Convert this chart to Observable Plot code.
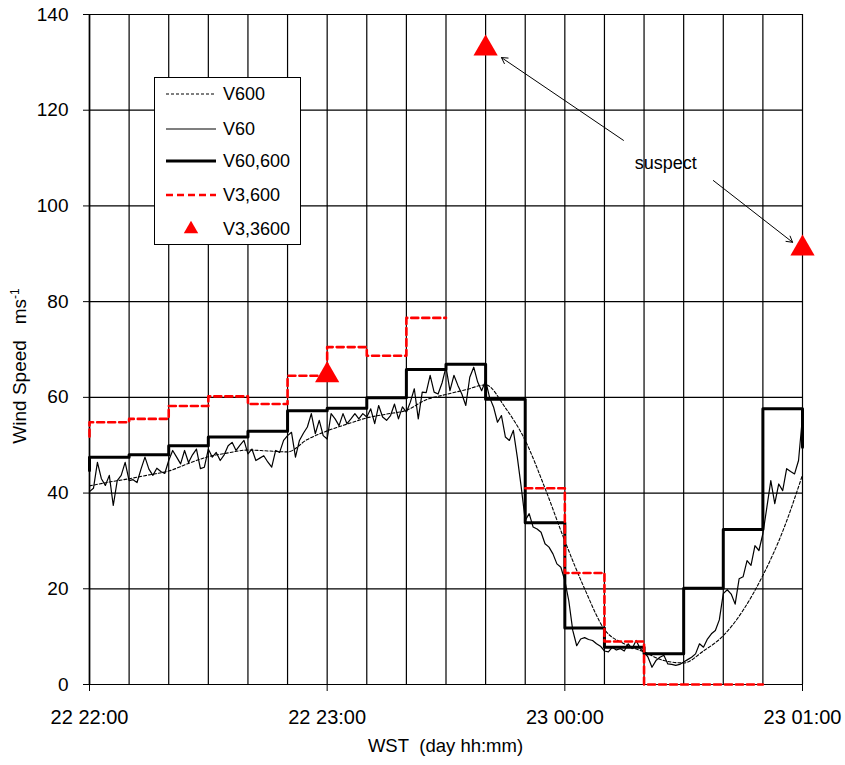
<!DOCTYPE html>
<html><head><meta charset="utf-8">
<script src="https://cdn.jsdelivr.net/npm/d3@7"></script>
<script src="https://cdn.jsdelivr.net/npm/@observablehq/plot@0.6"></script>
<style>
body{margin:0;background:#fff;}
#chart{position:relative;width:845px;height:765px;}
</style></head><body><div id="chart"></div>
<script>
// time axis: minutes after 22 22:00 WST
const intervalStarts = [0,10,20,30,40,50,60,70,80,90,100,110,120,130,140,150,160,170];
const intervalWidth = 10;
const v60_600 = [47.5,48.0,49.9,51.7,52.9,57.2,57.7,59.9,65.8,66.9,59.6,33.8,11.8,7.8,6.4,20.1,32.4,57.6];
const v60_600Before = 44.7;
const v60_600After = 49.6;
const v3_600 = [54.8,55.5,58.2,60.2,58.6,64.5,70.5,68.7,76.6,null,null,41.0,23.3,9.0,0,0,0,null];
const v3_600Before = 51.8;

const v600Minutes = [0,5,10,15,20,25,30,35,40,45,50,55,60,65,70,75,80,85,90,95,100,105,110,115,120,125,130,135,140,145,150,155,160,165,170,175,180];
const v600 = [41.5,42.3,43.0,43.8,44.6,46.2,47.6,48.4,49.0,48.8,48.6,51.2,53.0,54.4,55.7,56.5,57.3,59.5,60.6,61.6,62.6,57.8,51.0,41.0,30.0,20.0,11.5,8.5,6.8,5.0,4.5,7.0,10.2,15.5,22.8,32.0,43.8];

// 1-minute values, minute 0..180
const v60 = [
40.3,41.0,46.4,43.0,41.6,43.7,37.4,42.6,43.7,46.4,
42.6,42.8,42.2,45.0,47.5,45.0,43.7,45.2,44.5,44.1,
46.8,48.9,47.5,46.1,48.9,46.4,48.0,49.2,45.1,45.4,
49.2,47.5,48.5,46.8,48.0,49.9,50.6,48.9,50.0,51.0,
48.2,49.2,46.8,47.3,47.8,46.5,45.4,48.9,48.5,51.0,
52.0,52.7,47.5,51.0,52.5,53.8,56.6,52.4,55.2,52.0,
51.3,56.6,55.5,54.1,56.6,54.5,55.5,56.6,55.5,56.6,
55.9,57.6,54.5,58.3,55.9,55.2,56.2,58.6,55.5,58.0,
56.9,59.0,61.8,55.5,61.1,61.0,64.6,61.1,60.7,63.0,
66.3,61.4,64.6,62.5,60.7,58.3,64.2,66.3,63.2,61.4,
63.5,60.0,58.0,54.8,56.2,51.7,51.0,53.1,47.5,41.2,
34.3,35.7,32.9,32.5,31.8,29.4,28.7,27.3,25.2,24.5,
21.7,17.5,11.3,8.1,9.5,9.8,9.4,9.2,8.5,8.0,
7.0,6.8,7.8,7.2,7.5,7.0,8.5,7.5,9.2,7.5,
6.8,5.7,3.6,5.0,5.7,6.1,4.3,4.2,4.0,4.2,
4.7,5.2,5.7,6.4,8.5,7.8,9.5,10.6,11.3,13.5,
19.0,19.8,18.9,16.8,22.1,22.5,25.9,24.9,29.0,28.0,
31.5,37.0,42.6,37.8,41.9,40.5,45.1,44.5,44.0,46.8,
56.0];

const v3_3600Minutes = [60,100,180];
const v3_3600 = [64.6,132.9,91.1];

const gridMinutes = [0,10,20,30,40,50,60,70,80,90,100,110,120,130,140,150,160,170,180];
const xTickMinutes = [0,60,120,180];
const xTickLabels = ["22 22:00","22 23:00","23 00:00","23 01:00"];
const yTicks = [0,20,40,60,80,100,120,140];

const suspectLabel = [{x:145.5, y:109, text:"suspect"}];
const suspectArrows = [
  {x1:134.8, y1:113.7, x2:104.0, y2:131.0},
  {x1:157.5, y1:105.3, x2:177.5, y2:92.4}
];

const legendItems = ["V600","V60","V60,600","V3,600","V3,3600"];

function stepPoints(starts, values, width, before, after) {
  const pts = [];
  if (before != null) pts.push({x: starts[0], y: before});
  values.forEach((v, i) => {
    if (v == null) { pts.push({x: starts[i], y: NaN}); return; }
    pts.push({x: starts[i], y: v}, {x: starts[i] + width, y: v});
  });
  if (after != null) pts.push({x: starts[starts.length - 1] + width, y: after});
  return pts;
}

const stepBlack = stepPoints(intervalStarts, v60_600, intervalWidth, v60_600Before, v60_600After);
const stepRed = stepPoints(intervalStarts, v3_600, intervalWidth, v3_600Before, null);
const v60Data = v60.map((v, i) => ({x: i, y: v}));
const v600Data = v600Minutes.map((m, i) => ({x: m, y: v600[i]}));
const triData = v3_3600Minutes.map((m, i) => ({x: m, y: v3_3600[i]}));

const FONT = "'Liberation Sans', Arial, sans-serif";

const plot = Plot.plot({
  width: 845, height: 765,
  marginLeft: 89, marginRight: 43, marginTop: 14, marginBottom: 81,
  style: {fontFamily: FONT, fontSize: "19px", color: "#000", background: "#fff", overflow: "visible"},
  x: {domain: [0, 180]},
  y: {domain: [0, 140]},
  marks: [
    Plot.ruleX(gridMinutes, {stroke: "#000", strokeWidth: 1.2}),
    Plot.ruleY(yTicks, {stroke: "#000", strokeWidth: 1.2}),
    Plot.ruleX([0], {stroke: "#000", strokeWidth: 1.6}),
    Plot.axisY(yTicks, {anchor: "left", tickSize: 6, tickPadding: 15, label: null, fontSize: 19}),
    Plot.axisX(xTickMinutes, {anchor: "bottom", tickSize: 7, tickPadding: 18, label: null, fontSize: 20,
      tickFormat: d => xTickLabels[xTickMinutes.indexOf(d)]}),
    Plot.line(v600Data, {x: "x", y: "y", stroke: "#000", strokeWidth: 1.1, strokeDasharray: "3,2", curve: "monotone-x"}),
    Plot.line(v60Data, {x: "x", y: "y", stroke: "#000", strokeWidth: 1.2}),
    Plot.line(stepBlack, {x: "x", y: "y", stroke: "#000", strokeWidth: 3}),
    Plot.line(stepRed, {x: "x", y: "y", stroke: "#ff0000", strokeWidth: 2.6, strokeDasharray: "7,4"}),
    Plot.dot(triData, {x: "x", y: "y", symbol: "triangle", r: 9, fill: "#ff0000", stroke: "none"}),
    Plot.arrow(suspectArrows, {x1: "x1", y1: "y1", x2: "x2", y2: "y2", stroke: "#000", strokeWidth: 1, headLength: 10}),
    Plot.text(suspectLabel, {x: "x", y: "y", text: "text", fontSize: 18, fill: "#000"})
  ]
});

const svg = d3.select(plot);
// axis titles
svg.append("text")
  .attr("x", 445.5).attr("y", 752)
  .attr("text-anchor", "middle")
  .attr("font-family", FONT).attr("font-size", 18.5).attr("fill", "#000")
  .text("WST\u00a0 (day hh:mm)");
const yt = svg.append("text")
  .attr("transform", "translate(26,366) rotate(-90)")
  .attr("text-anchor", "middle")
  .attr("font-family", FONT).attr("font-size", 19).attr("fill", "#000");
yt.append("tspan").text("Wind Speed\u00a0\u00a0 ms");
yt.append("tspan").attr("dy", -7).attr("font-size", 12).text("-1");

// legend
const lg = svg.append("g").attr("font-family", FONT).attr("font-size", 18).attr("text-anchor", "start");
lg.append("rect").attr("x", 154.5).attr("y", 77.5).attr("width", 146).attr("height", 167)
  .attr("fill", "#fff").attr("stroke", "#000").attr("stroke-width", 1);
const rowY = [94, 129, 161, 195, 229];
const styles = [
  {stroke: "#000", w: 1.1, dash: "3,2"},
  {stroke: "#000", w: 1.2, dash: null},
  {stroke: "#000", w: 3, dash: null},
  {stroke: "#ff0000", w: 2.6, dash: "7,4"},
  null
];
legendItems.forEach((name, i) => {
  const s = styles[i];
  if (s) {
    const l = lg.append("line").attr("x1", 166).attr("x2", 216).attr("y1", rowY[i]).attr("y2", rowY[i])
      .attr("stroke", s.stroke).attr("stroke-width", s.w);
    if (s.dash) l.attr("stroke-dasharray", s.dash);
  } else {
    lg.append("path").attr("d", d3.symbol(d3.symbolTriangle, 90)()).attr("transform", `translate(191,${rowY[i]})`).attr("fill", "#ff0000");
  }
  lg.append("text").attr("x", 223).attr("y", rowY[i]).attr("dy", "0.35em").attr("fill", "#000").text(name);
});

document.getElementById("chart").appendChild(plot);
</script></body></html>
